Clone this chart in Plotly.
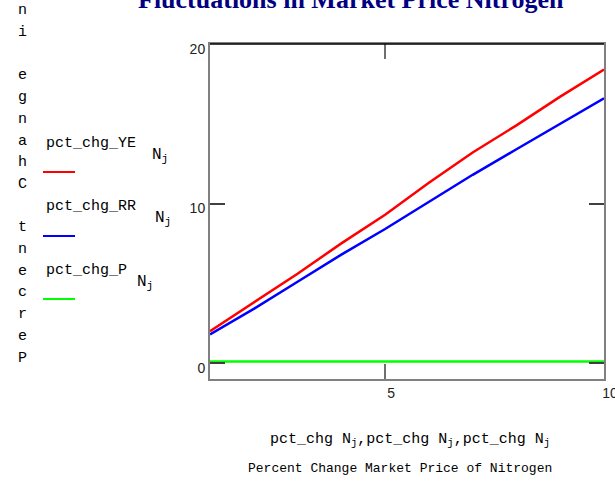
import plotly.graph_objects as go

# ---- data ----
j_vals = [1, 2, 3, 4, 5, 6, 7, 8, 9, 10]
pct_chg_YE = [2.0, 3.8, 5.6, 7.5, 9.3, 11.3, 13.2, 14.9, 16.7, 18.4]
pct_chg_RR = [1.8, 3.4, 5.1, 6.8, 8.4, 10.1, 11.8, 13.4, 15.0, 16.6]
pct_chg_P = [0.1, 0.1, 0.1, 0.1, 0.1, 0.1, 0.1, 0.1, 0.1, 0.1]
x_ticks = [5, 10]
y_ticks = [0, 10, 20]
series_names = ["pct_chg_YE", "pct_chg_RR", "pct_chg_P"]
series_colors = ["#ff0000", "#0000ff", "#00ff00"]
title_text = "Fluctuations in Market Price Nitrogen"
y_title = "Percent Change in"
x_title_1 = "pct_chg N<sub>j</sub>,pct_chg N<sub>j</sub>,pct_chg N<sub>j</sub>"
x_title_2 = "Percent Change Market Price of Nitrogen"

W, H = 615, 485
L, R, T, B = 210, 11, 44, 106
pw, ph = W - L - R, H - T - B


def px(xp):
    return (xp - L) / pw


def py(yp):
    return (H - B - yp) / ph


fig = go.Figure()
for name, vals, col in zip(series_names, [pct_chg_YE, pct_chg_RR, pct_chg_P], series_colors):
    fig.add_trace(go.Scatter(x=j_vals, y=vals, mode="lines", name=name,
                             line=dict(color=col, width=2.5), showlegend=False))

mono = "Liberation Mono, Courier New, monospace"
annotations = []
shapes = []

# title (partly cut off at top)
annotations.append(dict(text="<b>" + title_text + "</b>", x=px(351), y=py(-1), xref="paper", yref="paper",
                        xanchor="center", yanchor="middle", showarrow=False,
                        font=dict(family="Liberation Serif, Times New Roman, serif", size=26, color="#000080")))

# stacked vertical y title (bottom to top)
y0 = 358
for i, ch in enumerate(y_title):
    if ch == " ":
        continue
    annotations.append(dict(text=ch, x=px(22), y=py(y0 - 21.7 * i), xref="paper", yref="paper",
                            xanchor="center", yanchor="middle", showarrow=False,
                            font=dict(family=mono, size=15, color="#000000")))

# custom legend
leg_text_y = [143, 206, 270]
leg_line_y = [172, 236, 299]
n_x = [160, 163, 145]
for name, col, ty, ly, nx in zip(series_names, series_colors, leg_text_y, leg_line_y, n_x):
    annotations.append(dict(text=name, x=px(44), y=py(ty), xref="paper", yref="paper",
                            xanchor="left", yanchor="middle", showarrow=False,
                            font=dict(family=mono, size=15, color="#000000")))
    annotations.append(dict(text="N<sub>j</sub>", x=px(nx), y=py(ty + 12), xref="paper", yref="paper",
                            xanchor="center", yanchor="middle", showarrow=False,
                            font=dict(family=mono, size=16, color="#000000")))
    shapes.append(dict(type="line", xref="paper", yref="paper", x0=px(43), x1=px(75),
                       y0=py(ly), y1=py(ly), line=dict(color=col, width=2)))

# x titles
annotations.append(dict(text=x_title_1, x=px(410), y=py(440), xref="paper", yref="paper",
                        xanchor="center", yanchor="middle", showarrow=False,
                        font=dict(family=mono, size=15, color="#000000")))
annotations.append(dict(text=x_title_2, x=px(400), y=py(468), xref="paper", yref="paper",
                        xanchor="center", yanchor="middle", showarrow=False,
                        font=dict(family=mono, size=13, color="#000000")))

# top border black
shapes.append(dict(type="line", xref="paper", yref="paper", x0=0, x1=1, y0=1, y1=1,
                   line=dict(color="#000000", width=1.5)))

fig.update_layout(
    width=W, height=H, margin=dict(l=L, r=R, t=T, b=B, autoexpand=False),
    paper_bgcolor="white", plot_bgcolor="white",
    annotations=annotations, shapes=shapes,
    xaxis=dict(range=[1, 10], tickvals=x_ticks, ticks="inside", ticklen=15, tickwidth=2,
               tickcolor="#707070", showline=True, linecolor="#808080", linewidth=2,
               mirror="ticks", showgrid=False, zeroline=False, ticklabelshift=6,
               ticklabeloverflow="allow", automargin=False,
               tickfont=dict(family="Liberation Sans, Arial, sans-serif", size=14, color="#222222")),
    yaxis=dict(range=[-1, 20], tickvals=y_ticks, ticks="inside", ticklen=15, tickwidth=2,
               tickcolor="#404040", showline=True, linecolor="#808080", linewidth=2,
               mirror="ticks", showgrid=False, zeroline=False, ticklabelshift=5,
               ticklabeloverflow="allow", automargin=False,
               tickfont=dict(family="Liberation Sans, Arial, sans-serif", size=14, color="#222222")),
)

fig.write_html("out.html", config={"displayModeBar": False},
               post_script="document.body.style.margin='0px';")
